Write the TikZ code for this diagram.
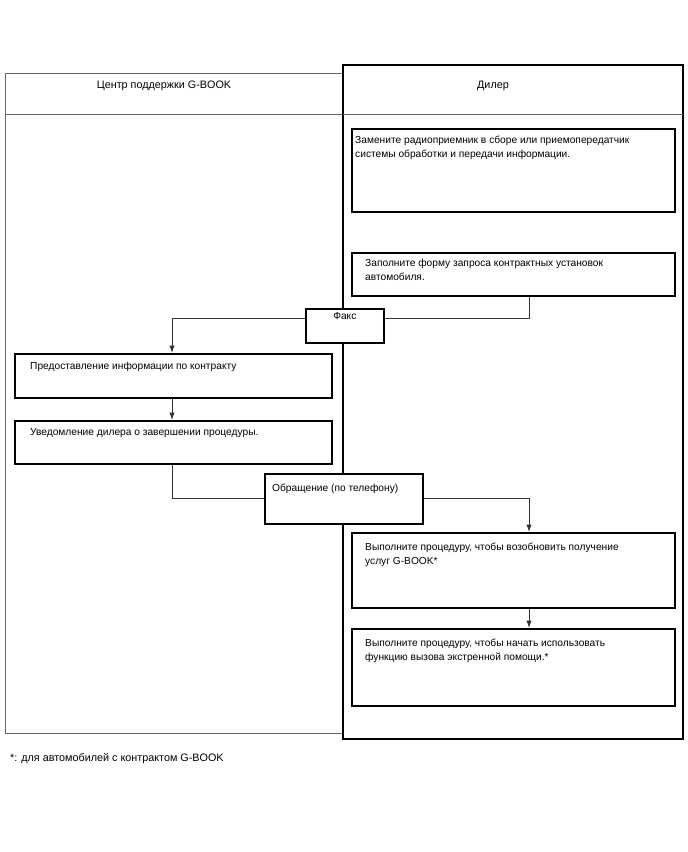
\documentclass[tikz,border=0pt]{standalone}
\usepackage{fontspec}
\setmainfont{Liberation Sans}
\usetikzlibrary{arrows.meta}
\begin{document}
\begin{tikzpicture}[x=1pt,y=-1pt,
  box/.style={draw=black,fill=white,line width=1.6pt,inner sep=0pt,anchor=north west},
  txt/.style={anchor=north west,inner sep=0pt,align=left,font=\fontsize{10.2}{14}\selectfont},
  lab/.style={inner sep=0pt,font=\fontsize{10.8}{14}\selectfont},
  conn/.style={draw=black!80,line width=1pt},
  arr/.style={conn,-{Latex[length=7.5pt,width=5.5pt]}}]
\useasboundingbox (0,0) rectangle (688,852);
% lanes
\draw[draw=black!60,line width=1pt] (5,73) rectangle (343,733);
\draw[draw=black!60,line width=1pt] (5,114) -- (343,114);
\draw[draw=black,line width=2.4pt] (343,65) rectangle (683,739);
\draw[draw=black!60,line width=1pt] (343,114) -- (683,114);
\node[lab] (hl) at (164,86) {Центр поддержки G-BOOK};
\node[lab] (hr) at (493,86) {Дилер};
\coordinate (c1) at (529,318);
\coordinate (c2) at (172,318);
\coordinate (c3) at (172,498);
\coordinate (c4) at (529,498);
% boxes
\node[box,minimum width=323,minimum height=83] (b1) at (351,128) {};
\node[txt] (t1) at ([shift={(4,8)}]b1.north west) {Замените радиоприемник в сборе или приемопередатчик\\системы обработки и передачи информации.};
\node[box,minimum width=323,minimum height=43] (b2) at (351,252) {};
\node[txt] (t2) at ([shift={(14,7)}]b2.north west) {Заполните форму запроса контрактных установок\\автомобиля.};
\node[box,minimum width=78,minimum height=34] (fax) at (305,308) {};
\node[txt,anchor=north] (tf) at ([shift={(0,1)}]fax.north) {\strut Факс};
\node[box,minimum width=317,minimum height=44] (b3) at (14,353) {};
\node[txt] (t3) at ([shift={(16,9)}]b3.north west) {Предоставление информации по контракту};
\node[box,minimum width=317,minimum height=43] (b4) at (14,420) {};
\node[txt] (t4) at ([shift={(16,8)}]b4.north west) {Уведомление дилера о завершении процедуры.};
\node[box,minimum width=158,minimum height=50] (ph) at (264,473) {};
\node[txt] (tp) at ([shift={(8,11)}]ph.north west) {Обращение (по телефону)};
\node[box,minimum width=323,minimum height=75] (b5) at (351,532) {};
\node[txt] (t5) at ([shift={(14,11)}]b5.north west) {Выполните процедуру, чтобы возобновить получение\\услуг G-BOOK*};
\node[box,minimum width=323,minimum height=77] (b6) at (351,628) {};
\node[txt] (t6) at ([shift={(14,11)}]b6.north west) {Выполните процедуру, чтобы начать использовать\\функцию вызова экстренной помощи.*};
% connectors
\draw[conn] (b2.south -| c1) -- (c1) -- (fax.east |- c1);
\draw[arr] (fax.west |- c2) -- (c2) -- (b3.north -| c2);
\draw[arr] (b3.south -| c2) -- (b4.north -| c2);
\draw[conn] (b4.south -| c3) -- (c3) -- (ph.west |- c3);
\draw[arr] (ph.east |- c4) -- (c4) -- (b5.north -| c4);
\draw[arr] (b5.south -| c4) -- (b6.north -| c4);
% footnote
\node[lab,anchor=north west] (fn) at (10,753) {*: для автомобилей с контрактом G-BOOK};
\end{tikzpicture}
\end{document}
